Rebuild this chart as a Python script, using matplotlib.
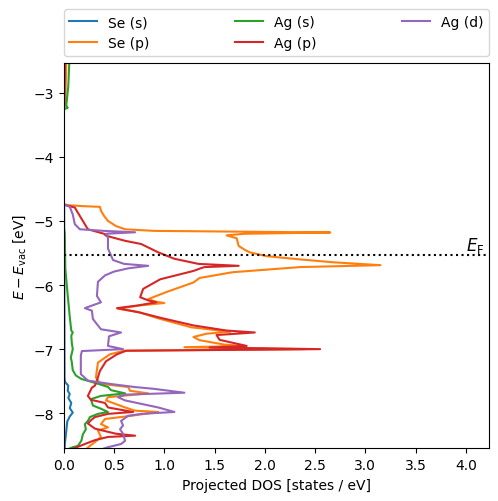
import numpy as np
import matplotlib
matplotlib.use("Agg")
import matplotlib.pyplot as plt

nan = float("nan")

# (energy [eV], projected DOS [states/eV])
se_s = [(-2.54, 0.008), (-3.0, 0.005), (-3.22, 0.003), (-3.26, 0.0), (-3.27, nan),
        (-4.74, 0.0), (-4.76, 0.004), (-7.45, 0.008), (-7.51, 0.012), (-7.57, 0.045),
        (-7.65, 0.04), (-7.70, 0.06), (-7.76, 0.045), (-7.84, 0.075), (-7.92, 0.06),
        (-7.99, 0.09), (-8.05, 0.06), (-8.13, 0.035), (-8.28, 0.025), (-8.49, 0.01),
        (-8.55, 0.01)]

se_p = [(-2.54, 0.025), (-3.0, 0.018), (-3.22, 0.01), (-3.26, 0.0), (-3.27, nan),
        (-4.74, 0.0), (-4.755, 0.05), (-4.77, 0.2), (-4.78, 0.36), (-4.84, 0.37),
        (-4.92, 0.40), (-5.0, 0.44), (-5.08, 0.52), (-5.13, 0.61), (-5.155, 0.9),
        (-5.18, 2.65), (-5.20, 1.8), (-5.225, 1.62), (-5.27, 1.72), (-5.33, 1.73),
        (-5.39, 1.74), (-5.45, 1.80), (-5.49, 1.85), (-5.55, 2.02), (-5.60, 2.35),
        (-5.645, 2.68), (-5.69, 3.15), (-5.72, 2.35), (-5.80, 1.68), (-5.89, 1.35),
        (-5.96, 1.29), (-6.11, 1.02), (-6.22, 0.84), (-6.26, 0.92), (-6.28, 1.0),
        (-6.32, 0.75), (-6.37, 0.54), (-6.42, 0.74), (-6.52, 0.94), (-6.66, 1.27),
        (-6.71, 1.55), (-6.725, 1.66), (-6.76, 1.42), (-6.81, 1.29), (-6.86, 1.35),
        (-6.93, 1.6), (-6.95, 1.8), (-6.97, 1.2), (-7.0, 2.4), (-7.025, 0.6),
        (-7.08, 0.46), (-7.21, 0.34), (-7.44, 0.32), (-7.54, 0.36), (-7.59, 0.64),
        (-7.65, 0.66), (-7.69, 0.84), (-7.75, 0.44), (-7.80, 0.42), (-7.91, 0.61),
        (-7.96, 0.71), (-7.98, 0.94), (-8.04, 0.67), (-8.09, 0.41), (-8.17, 0.37),
        (-8.22, 0.44), (-8.27, 0.34), (-8.37, 0.37), (-8.45, 0.31), (-8.51, 0.26),
        (-8.55, 0.23)]

ag_s = [(-2.54, 0.055), (-2.9, 0.045), (-3.2, 0.025), (-3.235, 0.04), (-3.26, 0.0),
        (-3.27, nan), (-5.1, 0.0), (-5.2, 0.01), (-5.75, 0.016), (-6.0, 0.03),
        (-6.5, 0.06), (-6.71, 0.075), (-6.74, 0.09), (-6.79, 0.075), (-6.9, 0.08),
        (-7.0, 0.09), (-7.13, 0.07), (-7.2, 0.08), (-7.33, 0.09), (-7.41, 0.12),
        (-7.465, 0.175), (-7.54, 0.34), (-7.59, 0.44), (-7.64, 0.47), (-7.69, 0.61),
        (-7.73, 0.37), (-7.78, 0.27), (-7.88, 0.29), (-7.93, 0.37), (-7.98, 0.44),
        (-8.01, 0.34), (-8.06, 0.26), (-8.12, 0.24), (-8.17, 0.21), (-8.25, 0.22),
        (-8.33, 0.19), (-8.43, 0.175), (-8.51, 0.14), (-8.53, 0.09), (-8.55, 0.06)]

ag_p = [(-2.54, 0.012), (-3.0, 0.008), (-3.18, 0.004), (-3.22, 0.0), (-3.23, nan),
        (-4.74, 0.0), (-4.755, 0.02), (-4.79, 0.11), (-4.87, 0.14), (-5.0, 0.19),
        (-5.13, 0.24), (-5.20, 0.40), (-5.23, 0.42), (-5.31, 0.61), (-5.36, 0.77),
        (-5.49, 0.94), (-5.59, 1.10), (-5.67, 1.34), (-5.70, 1.74), (-5.72, 1.40),
        (-5.74, 1.36), (-5.78, 1.29), (-5.91, 0.96), (-6.06, 0.79), (-6.19, 0.76),
        (-6.24, 0.84), (-6.27, 0.92), (-6.32, 0.73), (-6.36, 0.53), (-6.43, 0.76),
        (-6.51, 0.96), (-6.63, 1.29), (-6.71, 1.62), (-6.74, 1.90), (-6.78, 1.52),
        (-6.855, 1.55), (-6.95, 1.82), (-6.975, 1.45), (-7.0, 2.55), (-7.025, 0.62),
        (-7.08, 0.53), (-7.19, 0.42), (-7.34, 0.36), (-7.49, 0.33), (-7.57, 0.31),
        (-7.60, 0.28), (-7.73, 0.24), (-7.79, 0.27), (-7.84, 0.41), (-7.91, 0.44),
        (-7.98, 0.69), (-8.01, 0.44), (-8.06, 0.31), (-8.11, 0.27), (-8.16, 0.24),
        (-8.24, 0.31), (-8.29, 0.44), (-8.32, 0.52), (-8.35, 0.71), (-8.37, 0.44),
        (-8.42, 0.31), (-8.48, 0.21), (-8.53, 0.13), (-8.55, 0.10)]

ag_d = [(-4.74, 0.0), (-4.755, 0.02), (-4.78, 0.06), (-4.90, 0.09), (-5.05, 0.11),
        (-5.13, 0.16), (-5.155, 0.4), (-5.177, 0.71), (-5.20, 0.42), (-5.225, 0.43),
        (-5.27, 0.44), (-5.43, 0.44), (-5.61, 0.49), (-5.67, 0.6), (-5.70, 0.84),
        (-5.74, 0.64), (-5.79, 0.50), (-5.85, 0.41), (-5.95, 0.34), (-6.17, 0.33),
        (-6.27, 0.37), (-6.36, 0.21), (-6.40, 0.28), (-6.53, 0.29), (-6.69, 0.37),
        (-6.74, 0.57), (-6.80, 0.45), (-6.95, 0.44), (-7.0, 0.59), (-7.03, 0.18),
        (-7.10, 0.17), (-7.39, 0.17), (-7.49, 0.24), (-7.54, 0.45), (-7.59, 0.70),
        (-7.62, 0.90), (-7.68, 1.20), (-7.71, 0.61), (-7.75, 0.54), (-7.80, 0.61),
        (-7.91, 0.94), (-7.98, 1.10), (-8.01, 0.77), (-8.04, 0.64), (-8.12, 0.57),
        (-8.19, 0.59), (-8.25, 0.56), (-8.32, 0.59), (-8.43, 0.61), (-8.48, 0.57),
        (-8.53, 0.44), (-8.55, 0.40)]

labels = ["Se (s)", "Se (p)", "Ag (s)", "Ag (p)", "Ag (d)"]
series = [se_s, se_p, ag_s, ag_p, ag_d]
e_fermi = -5.53

fig = plt.figure(figsize=(4.98, 5.02), dpi=100)
ax = fig.add_axes([0.128, 0.1046, 0.854, 0.7674])

for lab, s in zip(labels, series):
    arr = np.array(s)
    ax.plot(arr[:, 1], arr[:, 0], label=lab)

ax.axhline(e_fermi, color="k", linestyle=":")
ax.text(4.0, e_fermi, r"$E_{\rm F}$", fontsize=12, ha="left", va="bottom")

ax.set_xlim(0, 4.23)
ax.set_ylim(-8.55, -2.54)
ax.set_xlabel("Projected DOS [states / eV]")
ax.set_ylabel(r"$E - E_{\rm vac}$ [eV]")
ax.legend(bbox_to_anchor=(0.0, 1.02, 1.0, 0.102), loc="lower left", ncol=3,
          mode="expand", borderaxespad=0.0)

fig.savefig("out.png", dpi=100)
